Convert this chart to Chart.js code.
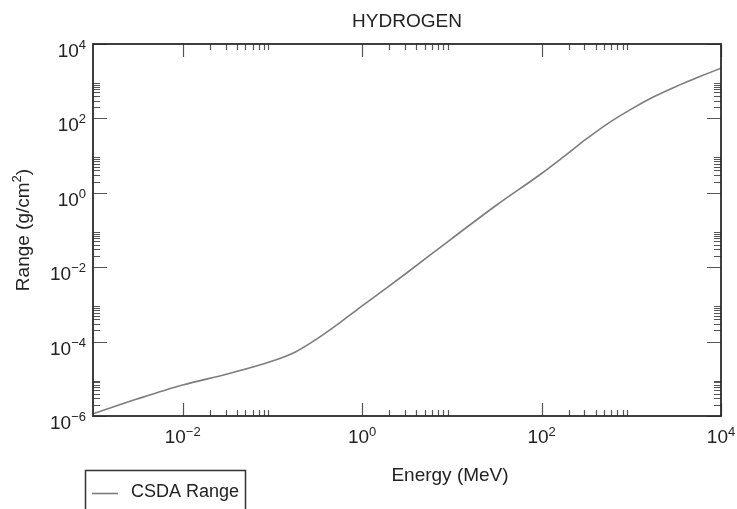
<!DOCTYPE html>
<html lang="en">
<head>
    <meta charset="UTF-8">
    <title>HYDROGEN - CSDA Range</title>
    <script src="https://cdn.jsdelivr.net/npm/chart.js@4.4.1/dist/chart.umd.min.js"></script>
    <style>
        body { margin: 0; background: #fff; }
        canvas { display: block; }
    </style>
</head>
<body>
    <canvas id="rangeChart" width="737" height="509"></canvas>

    <script>
        // CSDA range of protons in hydrogen
        const energyMeV = [0.001, 0.00316, 0.01, 0.0316, 0.1, 0.178, 0.316, 0.562, 1,
                           3.16, 10, 31.6, 100, 178, 316, 562, 1000, 1778, 3162, 5623, 10000];
        const csdaRange = [1.15e-6, 2.9e-6, 6.8e-6, 1.35e-5, 3.0e-5, 5.2e-5, 1.2e-4, 3.2e-4, 9.1e-4,
                           7.1e-3, 5.9e-2, 0.47, 3.3, 9.5, 28, 76, 178, 380, 725, 1290, 2240];

        // labelled decades and the decades that get 2..9 minor ticks
        const xLabelExps = [-2, 0, 2, 4];
        const yLabelExps = [-6, -4, -2, 0, 2, 4];
        const xMinorDecades = [-2, 0, 2];
        const yMinorDecades = [-6, -4, -2, 0, 2];

        const FONT = "'Liberation Sans', Arial, Helvetica, sans-serif";

        function powLabel(ctx, exp, x, yBase, ySup, align) {
            const base = '10';
            const sup = exp < 0 ? '\u2212' + Math.abs(exp) : String(exp);
            ctx.font = '19px ' + FONT;
            const wb = ctx.measureText(base).width;
            ctx.font = '13px ' + FONT;
            const ws = ctx.measureText(sup).width;
            let x0 = align === 'right' ? x - wb - ws : x - (wb + ws) / 2;
            ctx.textAlign = 'left';
            ctx.textBaseline = 'alphabetic';
            ctx.font = '19px ' + FONT;
            ctx.fillText(base, x0, yBase);
            ctx.font = '13px ' + FONT;
            ctx.fillText(sup, x0 + wb, ySup);
        }

        // frame, inward ticks on all four sides, labels and titles
        const framePlugin = {
            id: 'frame',
            afterDraw(chart) {
                const ctx = chart.ctx;
                const a = chart.chartArea;
                const xs = chart.scales.x, ys = chart.scales.y;
                ctx.save();

                ctx.strokeStyle = '#555';
                ctx.lineWidth = 1.2;
                const vTick = (px, len) => {
                    ctx.beginPath();
                    ctx.moveTo(px, a.bottom); ctx.lineTo(px, a.bottom - len);
                    ctx.moveTo(px, a.top); ctx.lineTo(px, a.top + len);
                    ctx.stroke();
                };
                const hTick = (py, len) => {
                    ctx.beginPath();
                    ctx.moveTo(a.left, py); ctx.lineTo(a.left + len, py);
                    ctx.moveTo(a.right, py); ctx.lineTo(a.right - len, py);
                    ctx.stroke();
                };
                xLabelExps.forEach(e => vTick(Math.round(xs.getPixelForValue(Math.pow(10, e))) + 0.5, 13));
                xMinorDecades.forEach(d => {
                    for (let k = 2; k <= 9; k++) vTick(Math.round(xs.getPixelForValue(k * Math.pow(10, d))) + 0.5, 6);
                });
                yLabelExps.forEach(e => hTick(Math.round(ys.getPixelForValue(Math.pow(10, e))) + 0.5, 14));
                yMinorDecades.forEach(d => {
                    for (let k = 2; k <= 9; k++) hTick(Math.round(ys.getPixelForValue(k * Math.pow(10, d))) + 0.5, 7);
                });

                ctx.strokeStyle = '#2b2b2b';
                ctx.lineWidth = 1.8;
                ctx.strokeRect(a.left, a.top, a.right - a.left, a.bottom - a.top);

                ctx.fillStyle = '#222';
                xLabelExps.forEach(e => {
                    const px = xs.getPixelForValue(Math.pow(10, e));
                    powLabel(ctx, e, px, a.bottom + 27, a.bottom + 20, 'center');
                });
                yLabelExps.forEach(e => {
                    const py = ys.getPixelForValue(Math.pow(10, e));
                    powLabel(ctx, e, a.left - 7, py + 13, py + 5, 'right');
                });

                // titles
                ctx.textAlign = 'center';
                ctx.font = '19px ' + FONT;
                ctx.fillText('HYDROGEN', (a.left + a.right) / 2, 27);
                ctx.fillText('Energy (MeV)', 450, 481);

                ctx.save();
                ctx.translate(29, (a.top + a.bottom) / 2);
                ctx.rotate(-Math.PI / 2);
                ctx.font = '19px ' + FONT;
                const t1 = 'Range (g/cm', t2 = '2', t3 = ')';
                const w1 = ctx.measureText(t1).width, w3 = ctx.measureText(t3).width;
                ctx.font = '13px ' + FONT;
                const w2 = ctx.measureText(t2).width;
                let x0 = -(w1 + w2 + w3) / 2;
                ctx.textAlign = 'left';
                ctx.font = '19px ' + FONT;
                ctx.fillText(t1, x0, 0);
                ctx.font = '13px ' + FONT;
                ctx.fillText(t2, x0 + w1, -8);
                ctx.font = '19px ' + FONT;
                ctx.fillText(t3, x0 + w1 + w2, 0);
                ctx.restore();

                // boxed legend under the plot
                const ds = chart.data.datasets[0];
                ctx.strokeStyle = '#333';
                ctx.lineWidth = 1.5;
                ctx.strokeRect(85.5, 470.5, 160, 50);
                ctx.strokeStyle = ds.borderColor;
                ctx.lineWidth = ds.borderWidth;
                ctx.beginPath();
                ctx.moveTo(92, 493.5); ctx.lineTo(118, 493.5);
                ctx.stroke();
                ctx.fillStyle = '#222';
                ctx.font = '18px ' + FONT;
                ctx.textAlign = 'left';
                ctx.fillText(ds.label, 131, 497);

                ctx.restore();
            }
        };

        const ctx = document.getElementById('rangeChart').getContext('2d');
        new Chart(ctx, {
            type: 'line',
            data: {
                datasets: [{
                    label: 'CSDA Range',
                    data: energyMeV.map((e, i) => ({ x: e, y: csdaRange[i] })),
                    borderColor: '#7d7d7d',
                    borderWidth: 1.6,
                    pointRadius: 0,
                    cubicInterpolationMode: 'monotone',
                    fill: false
                }]
            },
            options: {
                responsive: false,
                animation: false,
                layout: { padding: { left: 93, top: 44, right: 16, bottom: 93 } },
                plugins: {
                    legend: { display: false },
                    title: { display: false },
                    tooltip: { enabled: false }
                },
                scales: {
                    x: { type: 'logarithmic', min: 1e-3, max: 1e4, display: false },
                    y: { type: 'logarithmic', min: 1e-6, max: 1e4, display: false }
                }
            },
            plugins: [framePlugin]
        });
    </script>
</body>
</html>
